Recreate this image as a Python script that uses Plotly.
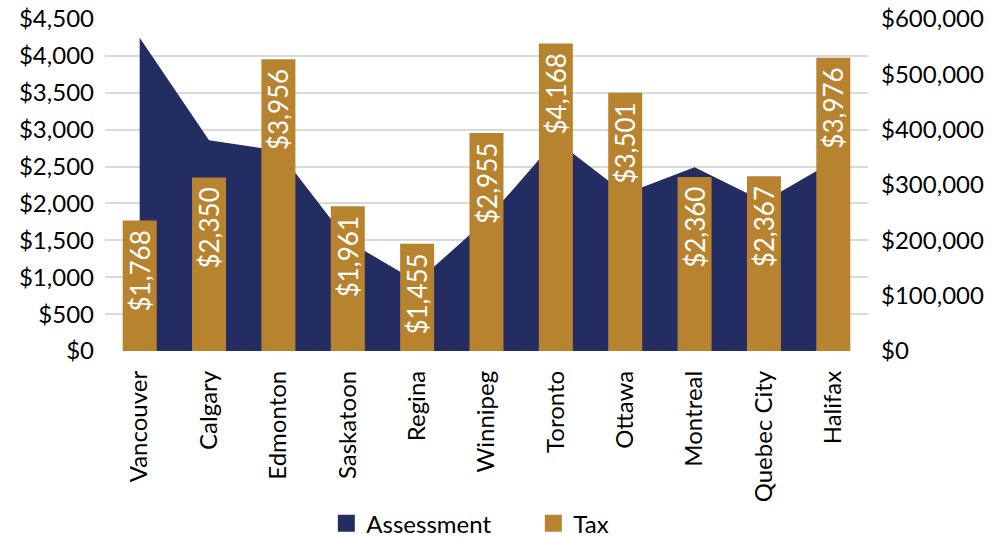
import plotly.graph_objects as go

cities = ["Vancouver", "Calgary", "Edmonton", "Saskatoon", "Regina", "Winnipeg",
          "Toronto", "Ottawa", "Montreal", "Quebec City", "Halifax"]
assessment = [566000, 381000, 362000, 199000, 125000, 237000,
              381000, 284000, 332000, 270000, 343000]
tax = [1768, 2350, 3956, 1961, 1455, 2955, 4168, 3501, 2360, 2367, 3976]

NAVY = "#232D62"
GOLD = "#B8832F"
FONT = "Lato"

fig = go.Figure()

# assessment area on the primary (right-hand) axis so the bars sit above it
fig.add_trace(go.Scatter(
    x=cities, y=assessment, name="Assessment", yaxis="y",
    mode="lines", line=dict(width=0, color=NAVY),
    fill="tozeroy", fillcolor=NAVY, showlegend=False,
))

fig.add_trace(go.Bar(
    x=cities, y=tax, name="Tax", yaxis="y2",
    marker=dict(color=GOLD, line=dict(width=0)),
    texttemplate="$%{y:,}\u00a0", textposition="inside", insidetextanchor="end",
    textangle=-90, constraintext="none",
    insidetextfont=dict(family=FONT, size=26, color="white"),
    showlegend=False,
))

# legend entries drawn as square swatches
for name, color in [("Assessment", NAVY), ("Tax", GOLD)]:
    fig.add_trace(go.Bar(
        x=cities, y=[None] * len(cities), name=name, yaxis="y2",
        marker=dict(color=color, line=dict(width=7, color=color)),
        hoverinfo="skip",
    ))

fig.update_layout(
    width=1001, height=537,
    margin=dict(l=105, r=133, t=19, b=186),
    paper_bgcolor="white", plot_bgcolor="white",
    font=dict(family=FONT, color="black"),
    bargap=0.51, barmode="overlay",
    showlegend=True,
    legend=dict(orientation="h", xref="container", yref="container",
                x=0.326, xanchor="left", y=0.025, yanchor="middle",
                font=dict(family=FONT, size=24), traceorder="normal",
                entrywidth=162, entrywidthmode="pixels"),
    xaxis=dict(
        type="category", range=[-0.5, 10.5], tickangle=-90,
        tickfont=dict(family=FONT, size=24), showgrid=False,
        showline=False, ticks="", ticklabelstandoff=14, automargin=False,
    ),
    yaxis=dict(
        side="right", range=[0, 600000], dtick=100000,
        tickprefix="$", tickformat=",d", showgrid=False, zeroline=False,
        tickfont=dict(family=FONT, size=24), ticks="",
        ticklabelstandoff=12, automargin=False,
    ),
    yaxis2=dict(
        side="left", overlaying="y", range=[0, 4500], dtick=500,
        tickprefix="$", tickformat=",d", showgrid=True,
        gridcolor="#D9D9D9", gridwidth=2, zeroline=False,
        tickfont=dict(family=FONT, size=24), ticks="",
        ticklabelstandoff=10, automargin=False,
    ),
)

fig.write_html("out.html")
